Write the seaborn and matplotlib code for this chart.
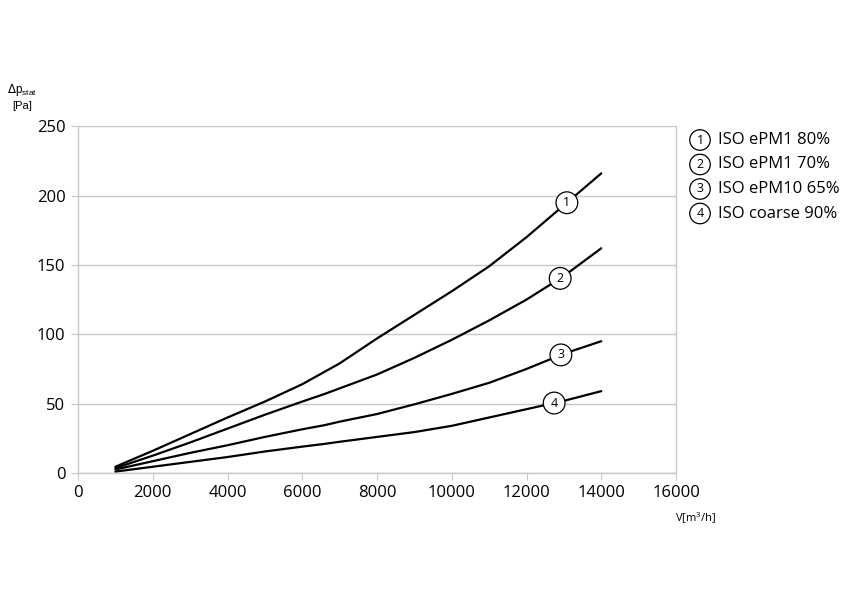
import numpy as np
import pandas as pd
import matplotlib
matplotlib.use("Agg")
import matplotlib.pyplot as plt
import seaborn as sns

# airflow [m3/h]
flow = [1000, 2000, 3000, 4000, 5000, 6000, 6600, 7000, 8000, 9000, 10000, 11000, 12000, 13000, 14000]

# pressure drop [Pa] per filter class
dp_1 = [4.5, 16, 28, 40, 51.5, 64, 73, 79, 97, 114, 131, 149, 170, 193, 216]
dp_2 = [3.5, 12.5, 22, 32, 42, 51.5, 57, 61, 71, 83, 96, 110, 125, 142, 162]
dp_3 = [2.5, 8.5, 14.5, 20, 26, 31.5, 34.5, 37, 42.5, 49.5, 57, 65, 75, 86, 95]
dp_4 = [1, 4.5, 8, 11.5, 15.5, 19, 21, 22.5, 26, 29.5, 34, 40, 46, 52, 59]

names = ["ISO ePM1 80%", "ISO ePM1 70%", "ISO ePM10 65%", "ISO coarse 90%"]
label_x = [13080, 12900, 12920, 12740]

series = [dp_1, dp_2, dp_3, dp_4]
df = pd.concat([pd.DataFrame({"flow": flow, "dp": s, "curve": str(i + 1)})
                for i, s in enumerate(series)])

sns.set_style("white")
plt.rcParams['font.family'] = ['Open Sans', 'DejaVu Sans']
plt.rcParams['text.color'] = 'black'

fig = plt.figure(figsize=(8.5, 6.01), dpi=100)
ax = fig.add_axes([0.0918, 0.213, 0.7035, 0.577])

sns.lineplot(data=df, x="flow", y="dp", hue="curve", palette=["black"] * 4,
             linewidth=1.6, legend=False, ax=ax)

ax.set_xlim(0, 16000)
ax.set_ylim(0, 250)
ax.set_xticks(range(0, 16001, 2000))
ax.set_yticks(range(0, 251, 50))
ax.grid(axis="y", color="#c8c8c8", linewidth=1)
ax.set_axisbelow(True)
for side in ["left", "bottom", "right"]:
    ax.spines[side].set_color("#c8c8c8")
    ax.spines[side].set_linewidth(1)
ax.spines["top"].set_visible(False)
ax.tick_params(axis="both", which="both", direction="out", length=5,
               color="#c8c8c8", labelcolor="black", labelsize=12, pad=4,
               left=True, bottom=True)
ax.set_xlabel("")
ax.set_ylabel("")

# circled numbers on curves
for i, s in enumerate(series):
    yv = np.interp(label_x[i], flow, s)
    ax.text(label_x[i], yv, str(i + 1), ha="center", va="center", fontsize=9,
            bbox=dict(boxstyle="circle,pad=0.35", fc="white", ec="black", lw=0.9))

# legend at right
for i, name in enumerate(names):
    yy = 1 - (140 + i * 24.5) / 601
    fig.text(700 / 850, yy, str(i + 1), ha="center", va="center", fontsize=9,
             bbox=dict(boxstyle="circle,pad=0.3", fc="white", ec="black", lw=0.9))
    fig.text(718 / 850, yy, name, ha="left", va="center", fontsize=12)

fig.text(22 / 850, 1 - 90 / 601, r"$\Delta$p$_{\mathregular{stat}}$", ha="center",
         va="center", fontsize=8.5, family="Liberation Sans")
fig.text(22 / 850, 1 - 106 / 601, "[Pa]", ha="center", va="center", fontsize=8,
         family="Liberation Sans")
fig.text(696 / 850, 1 - 518 / 601, r"V[m$^{\mathregular{3}}$/h]", ha="center",
         va="center", fontsize=8)

fig.savefig("out.png", dpi=100)
